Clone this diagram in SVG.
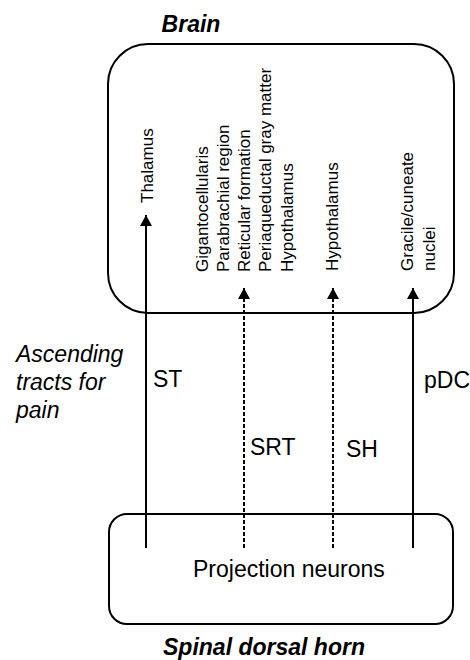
<svg xmlns="http://www.w3.org/2000/svg" width="470" height="660" viewBox="0 0 470 660">
<style>
.box{fill:none;stroke:#000;stroke-width:2}
.ln{stroke:#000;stroke-width:2;fill:none}
.dash{stroke-dasharray:4,2}
.t{font-family:"Liberation Sans",Arial,sans-serif;fill:#000}
.v{font-size:17px}
.m{font-size:23px}
.bi{font-weight:bold;font-style:italic}
.i{font-style:italic}
</style>
<defs>
<marker id="ah" markerUnits="userSpaceOnUse" markerWidth="14" markerHeight="14" refX="11" refY="6" orient="auto">
<path d="M0,0 L11,6 L0,12 Z" fill="#000"/>
</marker>
</defs>
<rect width="470" height="660" fill="#fff"/>
<g id="brain">
<rect class="box" x="108" y="44" width="346" height="269" rx="40" ry="40"/>
<text class="t m bi" x="191" y="32" text-anchor="middle">Brain</text>
<text class="t v" transform="translate(153,203) rotate(-90)">Thalamus</text>
<text class="t v" transform="translate(208,272) rotate(-90)">Gigantocellularis</text>
<text class="t v" transform="translate(229,272) rotate(-90)">Parabrachial region</text>
<text class="t v" transform="translate(250,272) rotate(-90)">Reticular formation</text>
<text class="t v" transform="translate(271,272) rotate(-90)">Periaqueductal gray matter</text>
<text class="t v" transform="translate(293,272) rotate(-90)">Hypothalamus</text>
<text class="t v" transform="translate(338,271) rotate(-90)">Hypothalamus</text>
<text class="t v" transform="translate(413,271) rotate(-90)">Gracile/cuneate</text>
<text class="t v" transform="translate(435,271) rotate(-90)">nuclei</text>
</g>
<g id="spinal">
<rect class="box" x="109" y="514" width="344" height="110" rx="18" ry="18"/>
<text class="t m" x="193" y="577">Projection neurons</text>
<text class="t m bi" x="264" y="655" text-anchor="middle">Spinal dorsal horn</text>
</g>
<g id="caption">
<text class="t m i" x="16" y="362">Ascending</text>
<text class="t m i" x="16" y="390">tracts for</text>
<text class="t m i" x="16" y="418">pain</text>
</g>
<g id="connectors">
<line class="ln" x1="146" y1="548" x2="146" y2="215" marker-end="url(#ah)"/>
<line class="ln dash" x1="244" y1="548" x2="244" y2="288" marker-end="url(#ah)"/>
<line class="ln dash" x1="333" y1="548" x2="333" y2="288" marker-end="url(#ah)"/>
<line class="ln" x1="413" y1="548" x2="413" y2="288" marker-end="url(#ah)"/>
<text class="t m" x="153" y="387">ST</text>
<text class="t m" x="250" y="455">SRT</text>
<text class="t m" x="346" y="457">SH</text>
<text class="t m" x="424" y="388">pDC</text>
</g>
</svg>
